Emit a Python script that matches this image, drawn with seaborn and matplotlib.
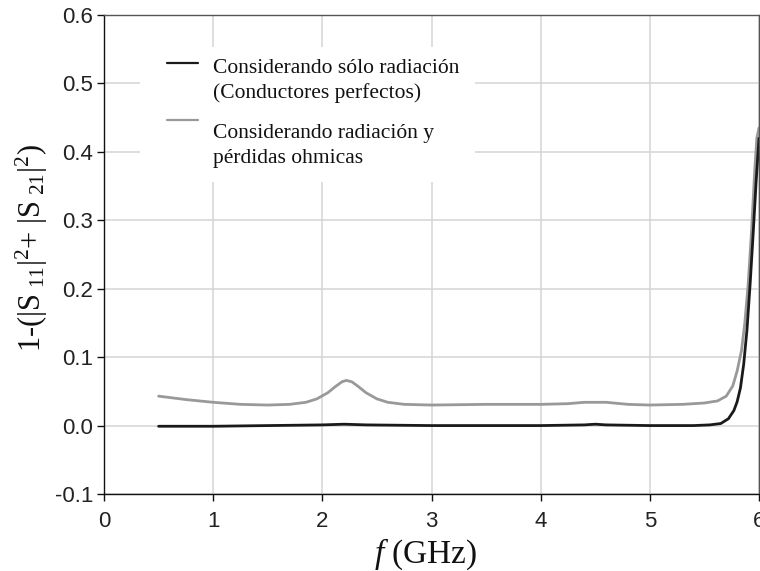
import numpy as np
import pandas as pd
import matplotlib
matplotlib.use("Agg")
import matplotlib.pyplot as plt
import seaborn as sns
from matplotlib.lines import Line2D
from matplotlib.patches import Rectangle

# Frequency (GHz) and 1-(|S11|^2+|S21|^2) for the lossless conductor case
freq_rad = [0.50, 1.00, 1.50, 2.00, 2.20, 2.40, 3.00, 4.00, 4.40, 4.50, 4.60,
            5.00, 5.40, 5.55, 5.65, 5.72, 5.77, 5.80, 5.83, 5.86, 5.89, 5.92,
            5.95, 5.975, 6.00]
loss_rad = [-0.001, -0.001, 0.000, 0.001, 0.002, 0.001, 0.000, 0.000, 0.001,
            0.002, 0.001, 0.000, 0.000, 0.001, 0.003, 0.010, 0.022, 0.035,
            0.055, 0.090, 0.140, 0.210, 0.290, 0.360, 0.420]

# Same quantity including ohmic losses
freq_ohm = [0.50, 0.75, 1.00, 1.25, 1.50, 1.70, 1.85, 1.95, 2.05, 2.12, 2.18,
            2.22, 2.27, 2.33, 2.40, 2.50, 2.60, 2.75, 3.00, 3.50, 4.00, 4.25,
            4.40, 4.60, 4.80, 5.00, 5.30, 5.50, 5.62, 5.70, 5.76, 5.80, 5.84,
            5.87, 5.90, 5.93, 5.96, 5.98, 6.00]
loss_ohm = [0.043, 0.038, 0.034, 0.031, 0.030, 0.031, 0.034, 0.039, 0.048,
            0.057, 0.064, 0.066, 0.064, 0.057, 0.048, 0.039, 0.034, 0.031,
            0.030, 0.031, 0.031, 0.032, 0.034, 0.034, 0.031, 0.030, 0.031,
            0.033, 0.036, 0.043, 0.058, 0.080, 0.110, 0.150, 0.205, 0.280,
            0.370, 0.420, 0.435]

series_labels = ["Considerando sólo radiación\n(Conductores perfectos)",
                 "Considerando radiación y\npérdidas ohmicas"]
series_colors = ["#1a1a1a", "#999999"]

x_ticks = [0, 1, 2, 3, 4, 5, 6]
y_ticks = [-0.1, 0.0, 0.1, 0.2, 0.3, 0.4, 0.5, 0.6]

df = pd.concat([
    pd.DataFrame({"f": freq_ohm, "val": loss_ohm, "caso": series_labels[1]}),
    pd.DataFrame({"f": freq_rad, "val": loss_rad, "caso": series_labels[0]}),
])

sns.set_theme(style="whitegrid")
plt.rcParams["font.family"] = ["Liberation Sans", "DejaVu Sans"]
plt.rcParams["axes.unicode_minus"] = False
plt.rcParams["mathtext.fontset"] = "custom"
plt.rcParams["mathtext.rm"] = "Liberation Serif"
plt.rcParams["mathtext.it"] = "Liberation Serif:italic"

W, H = 760, 571
fig = plt.figure(figsize=(W / 100, H / 100), dpi=100)
ax = fig.add_axes([104 / W, 1 - 494 / H, 655 / W, 479 / H])

sns.lineplot(data=df, x="f", y="val", hue="caso",
             hue_order=[series_labels[1], series_labels[0]],
             palette={series_labels[0]: series_colors[0],
                      series_labels[1]: series_colors[1]},
             linewidth=2.0, legend=False, ax=ax, sort=False, estimator=None)

ax.set_xlim(0, 6)
ax.set_ylim(-0.1, 0.6)
ax.set_xticks(x_ticks)
ax.set_xticklabels([str(t) for t in x_ticks])
ax.set_yticks(y_ticks)
ax.set_yticklabels([f"{t:.1f}" for t in y_ticks])

ax.grid(True, color="#d4d4d4", linewidth=1.1)
for side in ["left", "bottom"]:
    ax.spines[side].set_color("#111111")
    ax.spines[side].set_linewidth(1.0)
for side in ["top", "right"]:
    ax.spines[side].set_color("#555555")
    ax.spines[side].set_linewidth(1.0)

ax.tick_params(axis="both", which="major", direction="out", length=5,
               width=1.0, color="#111111", labelsize=16, labelcolor="#222222",
               left=True, bottom=True)
ax.tick_params(axis="y", pad=3)
ax.tick_params(axis="x", pad=7)

ax.set_xlabel(r"$f$ (GHz)", fontfamily="Liberation Serif", fontsize=24,
              color="#111111", va="center")
ax.xaxis.set_label_coords((426 - 104) / 655, -(554 - 494) / 479)
ax.set_ylabel(r"1-(|S$_{\ 11}$|$^{2}$+ |S$_{\ 21}$|$^{2}$)",
              fontfamily="Liberation Serif", fontsize=22, color="#111111")
ax.yaxis.set_label_coords((50 - 104) / 655, (494 - 248) / 479)

# Legend block on a white panel, each handle level with its first text line
ax.add_patch(Rectangle((140 / W, 1 - 182 / H), 335 / W, 135 / H,
                       transform=fig.transFigure, facecolor="white",
                       edgecolor="none", zorder=3))
handle_y = [63, 120]
first_baseline = [73, 138]
line_step = 25
for lbl, col, hy, by in zip(series_labels, series_colors, handle_y,
                            first_baseline):
    fig.add_artist(Line2D([167 / W, 198 / W], [1 - hy / H, 1 - hy / H],
                          color=col, linewidth=1.6, zorder=4))
    for i, part in enumerate(lbl.split("\n")):
        fig.text(213 / W, 1 - (by + i * line_step) / H, part,
                 fontfamily="Liberation Serif", fontsize=15.5,
                 color="#111111", va="baseline", ha="left", zorder=4)

fig.savefig("out.png", dpi=100)
